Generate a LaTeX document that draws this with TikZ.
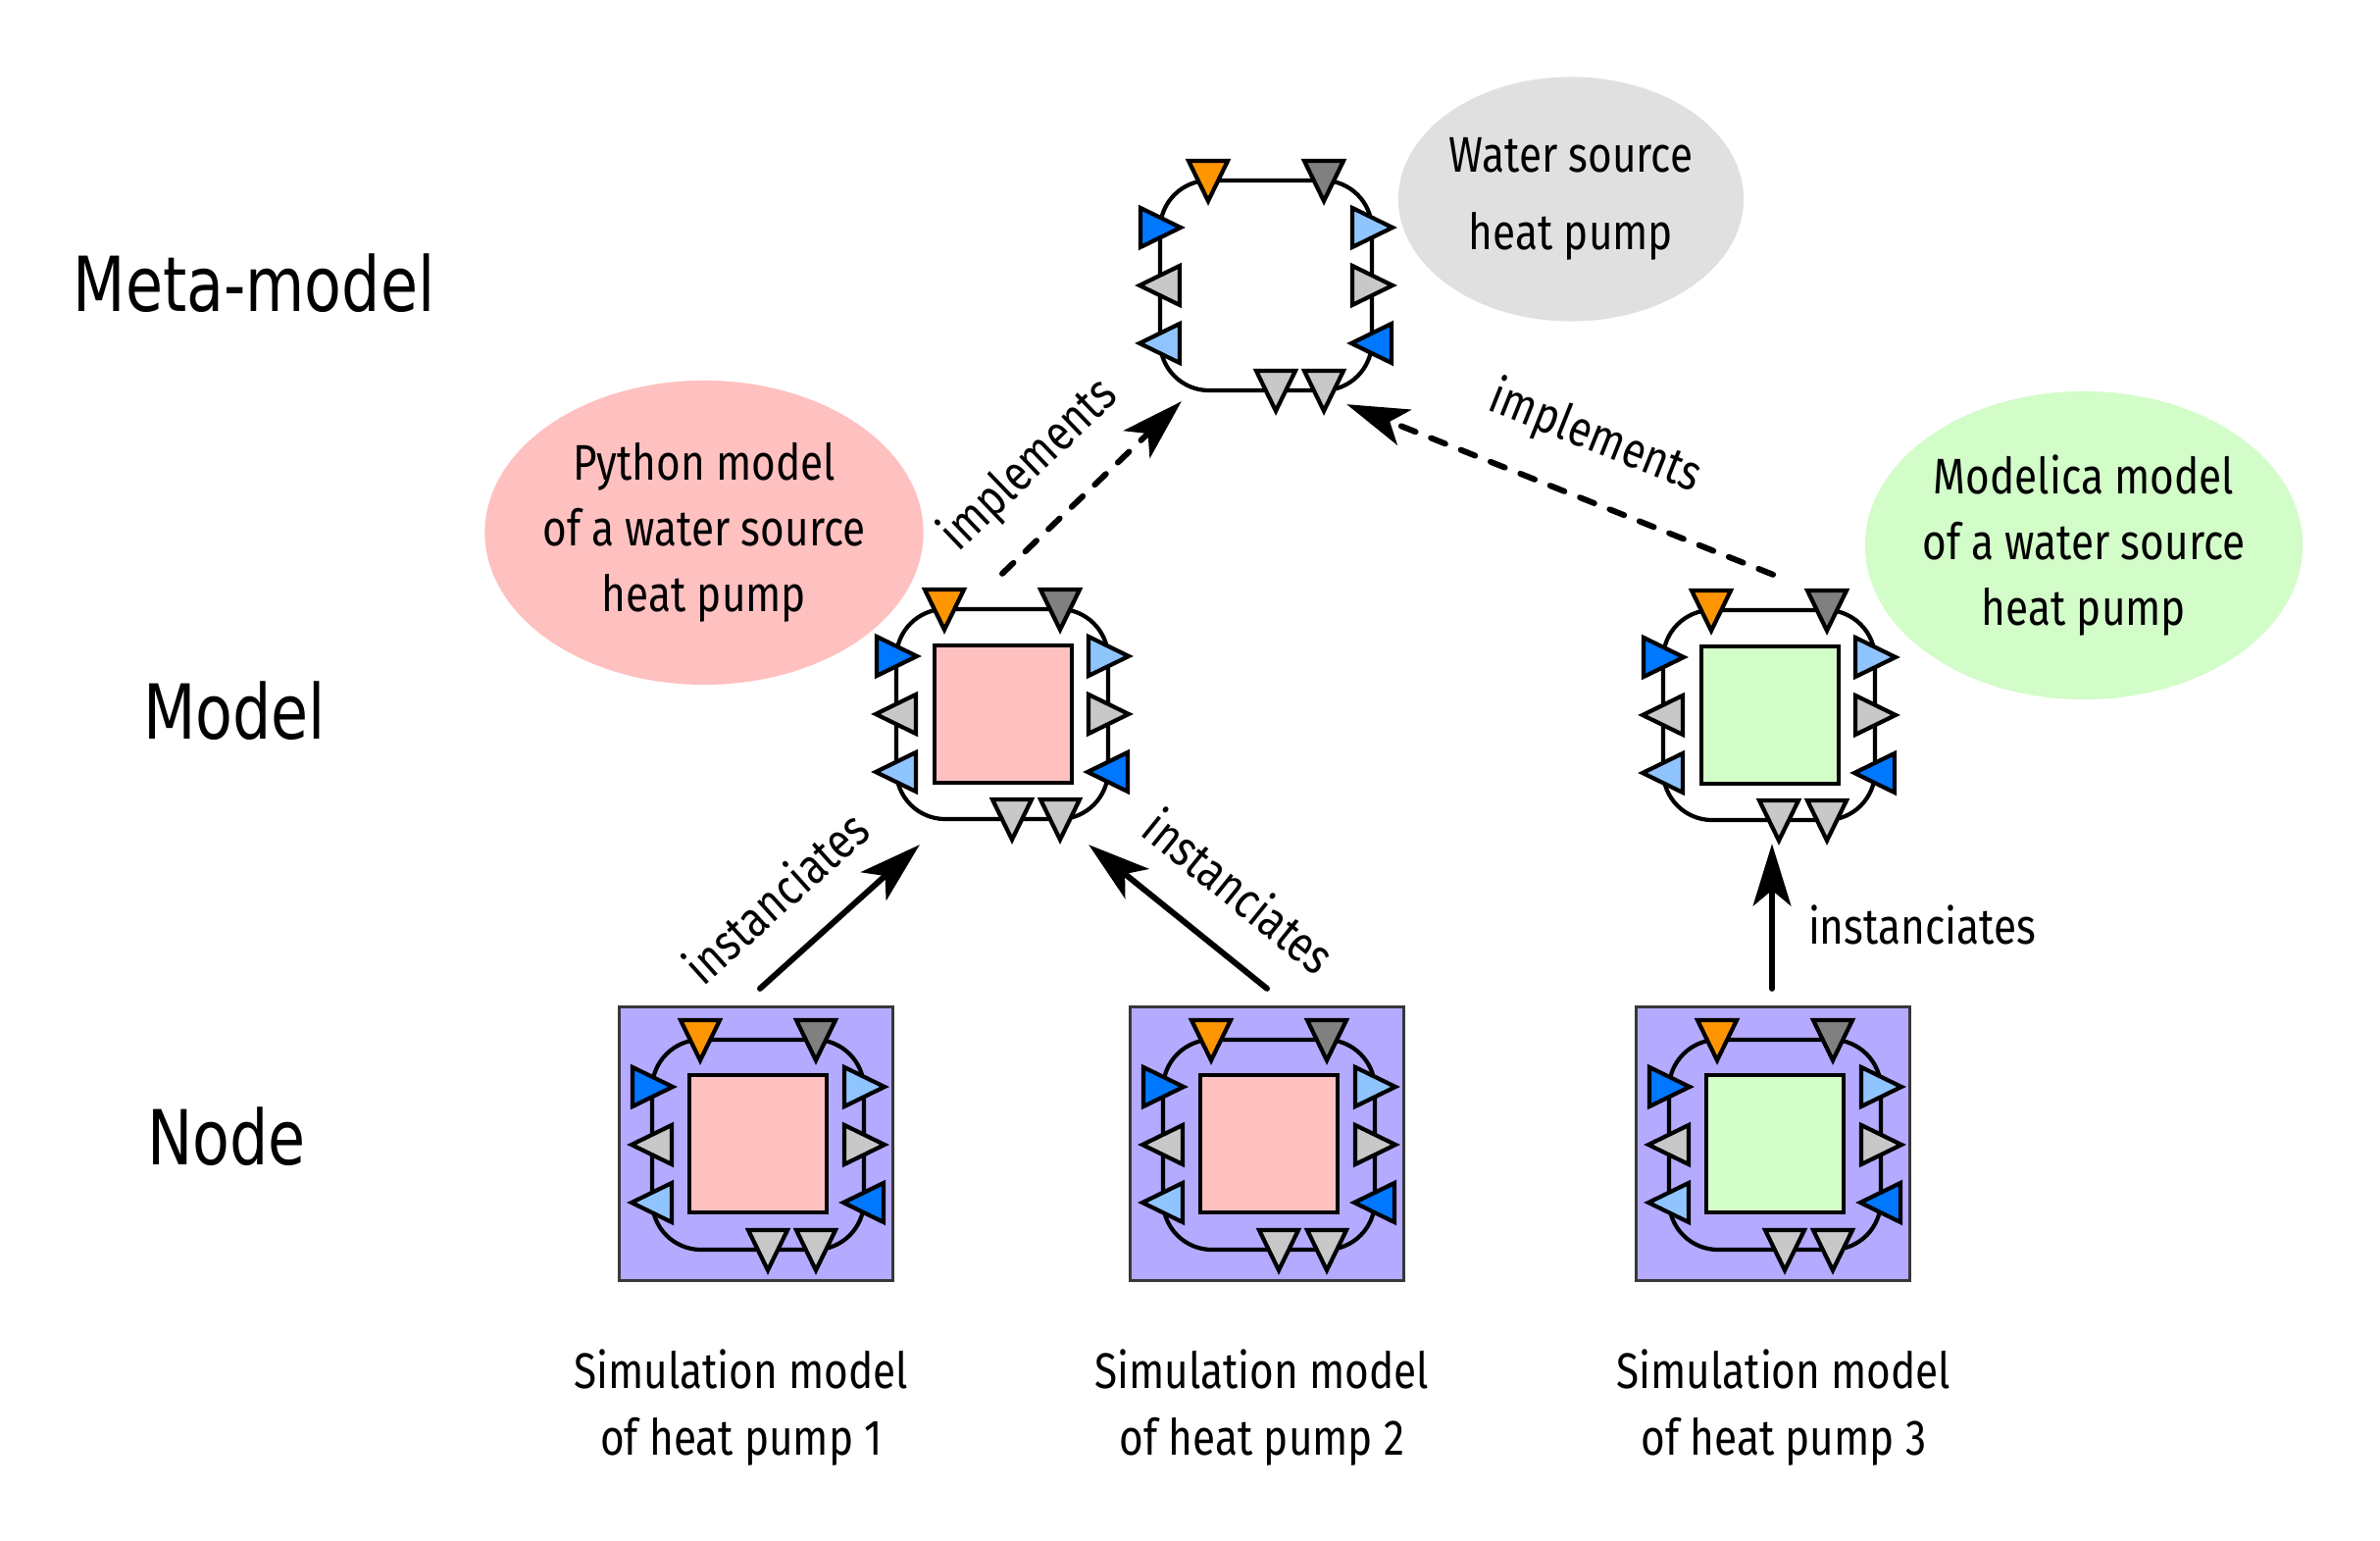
\documentclass[tikz,border=0pt]{standalone}
\usepackage{fontspec}
\setmainfont{Fira Sans}[FakeStretch=0.83]
\newfontfamily\levelfont{DejaVu Sans}[FakeStretch=0.8]
\usetikzlibrary{arrows.meta,shapes.geometric}

\definecolor{portorange}{HTML}{FF9500}
\definecolor{portdark}{HTML}{808080}
\definecolor{portblue}{HTML}{0077FF}
\definecolor{portlight}{HTML}{90C4FF}
\definecolor{portgray}{HTML}{C8C8C8}
\definecolor{pyfill}{HTML}{FFC0C0}
\definecolor{mofill}{HTML}{D2FCC8}
\definecolor{simfill}{HTML}{B4AAFF}
\definecolor{simedge}{HTML}{383838}
\definecolor{metafill}{HTML}{E0E0E0}

\tikzset{
	portline/.style={draw=black, line width=1.2pt},
	pics/port/.style={code={\draw[portline, fill=#1] (-20,20) -- (20,20) -- (0,-21) -- cycle;}},
	rim/.style={draw, line width=1.2pt, rounded corners=0.5cm, minimum width=2.16cm, minimum height=2.14cm, inner sep=0pt},
	core/.style={draw, line width=1.2pt, minimum size=1.4cm, inner sep=0pt},
	simbox/.style={draw=simedge, line width=0.9pt, fill=simfill, minimum size=2.79cm, inner sep=0pt},
	bubble/.style={ellipse, inner xsep=-12pt, inner ysep=-6pt, align=center, font=\fontsize{14.5}{19.1}\selectfont},
	level/.style={inner sep=0pt, font=\levelfont\fontsize{22}{26}\selectfont},
	tag/.style={inner sep=0pt, font=\fontsize{14.5}{19.1}\selectfont},
	impl/.style={-{Stealth[length=18pt, width=11pt, inset=4.5pt]}, line width=1.7pt, line cap=round, dash pattern=on 4.5pt off 4.8pt},
	inst/.style={-{Stealth[length=18pt, width=11pt, inset=4.5pt]}, line width=1.7pt, line cap=round},
	pics/heatpump/.style={code={
		\node[rim] (-rim) at (0,0) {};
		\pic at (-59,107) {port=portorange};
		\pic at (59,107) {port=portdark};
		\pic at (10,-107) {port=portgray};
		\pic at (59,-107) {port=portgray};
		\pic[rotate=90] at (-108,59) {port=portblue};
		\pic[rotate=-90] at (-108,0) {port=portgray};
		\pic[rotate=-90] at (-108,-59) {port=portlight};
		\pic[rotate=90] at (108,59) {port=portlight};
		\pic[rotate=90] at (108,0) {port=portgray};
		\pic[rotate=-90] at (108,-59) {port=portblue};
	}},
}

\begin{document}
\begin{tikzpicture}[x=0.01cm, y=0.01cm]
	\useasboundingbox (0,0) rectangle (2427,-1571);
	% levels
	\node[level] (metalevel) at (259,-289) {Meta-model};
	\node[level] (modellevel) at (239,-725) {Model};
	\node[level] (nodelevel) at (231,-1159) {Node};
	% bubbles
	\node[bubble, fill=metafill, minimum width=3.52cm, minimum height=2.49cm, font=\fontsize{14.5}{22.5}\selectfont] (waterhp) at (1602,-203) {Water source\\heat pump};
	\node[bubble, fill=pyfill, minimum width=4.47cm, minimum height=3.1cm] (pytext) at (718,-543) {Python model\\of a water source\\heat pump};
	\node[bubble, fill=mofill, minimum width=4.46cm, minimum height=3.14cm] (motext) at (2125,-556) {Modelica model\\of a water source\\heat pump};
	% meta-model
	\pic (meta) at (1291,-291) {heatpump};
	% models
	\pic (pymodel) at (1022,-728) {heatpump};
	\node[core, fill=pyfill] (pycore) at (1023,-728) {};
	\pic (momodel) at (1804,-729) {heatpump};
	\node[core, fill=mofill] (mocore) at (1805,-729) {};
	% nodes
	\node[simbox] (sim1) at (771,-1166) {};
	\pic (sim1hp) at (773,-1167) {heatpump};
	\node[core, fill=pyfill] (sim1core) at (773,-1166) {};
	\node[simbox] (sim2) at (1292,-1166) {};
	\pic (sim2hp) at (1294,-1167) {heatpump};
	\node[core, fill=pyfill] (sim2core) at (1294,-1166) {};
	\node[simbox] (sim3) at (1808,-1166) {};
	\pic (sim3hp) at (1810,-1167) {heatpump};
	\node[core, fill=mofill] (sim3core) at (1810,-1166) {};
	\node[tag, align=center] (sim1lbl) at (756,-1435) {Simulation model\\of heat pump 1};
	\node[tag, align=center] (sim2lbl) at (1287,-1435) {Simulation model\\of heat pump 2};
	\node[tag, align=center] (sim3lbl) at (1819,-1435) {Simulation model\\of heat pump 3};
	% implements
	\draw[impl] ([shift={(0,34)}]pymodel-rim.north) -- ([shift={(24,-9)}]meta-rim.south west)
		node[tag, sloped, pos=.38, above=0.32cm] (impl1) {implements};
	\draw[impl] ([shift={(4,34)}]momodel-rim.north) -- ([shift={(-28,-12)}]meta-rim.south east)
		node[tag, sloped, pos=.47, above=0.34cm] (impl2) {implements};
	% instanciates
	\draw[inst] ([shift={(4,17)}]sim1.north) -- ([shift={(26,-24)}]pymodel-rim.south west)
		node[tag, sloped, pos=.34, above=0.36cm] (inst1) {instanciates};
	\draw[inst] ([shift={(0,17)}]sim2.north) -- ([shift={(-22,-24)}]pymodel-rim.south east)
		node[tag, sloped, pos=.36, above=0.37cm] (inst2) {instanciates};
	\draw[inst] ([shift={(-1,17)}]sim3.north) -- ([shift={(3,-22)}]momodel-rim.south)
		node[tag, pos=.44, right=0.34cm] (inst3) {instanciates};
\end{tikzpicture}
\end{document}
